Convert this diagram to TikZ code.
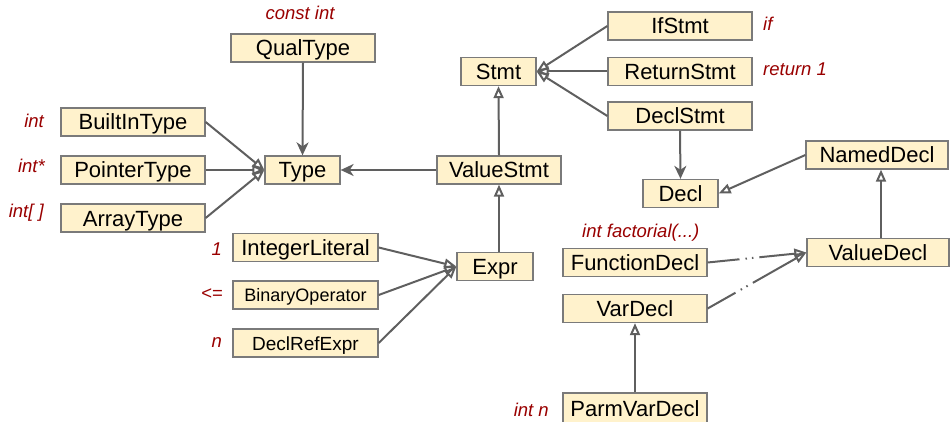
\documentclass[tikz,border=0pt]{standalone}
\usepackage{fontspec}
\setmainfont{Liberation Sans}
\usetikzlibrary{arrows.meta}

\definecolor{boxfill}{HTML}{FFF2CC}
\definecolor{boxline}{HTML}{7A7A7A}
\definecolor{wire}{HTML}{5F5F5F}
\definecolor{note}{HTML}{990000}

\tikzset{
  cls/.style={draw=boxline, fill=boxfill, line width=1.3pt, inner sep=0pt,
    minimum height=28pt, text height=16pt, text depth=0pt,
    font=\fontsize{22}{26}\selectfont},
  small/.style={text height=13pt, font=\fontsize{18}{22}\selectfont},
  mid/.style={text height=14pt, font=\fontsize{19}{23}\selectfont},
  note/.style={text=note, inner sep=0pt, font=\fontsize{18.5}{22}\selectfont\itshape},
  wire/.style={draw=wire, line width=2pt},
  isa/.style={wire, -{Triangle[open, length=12pt, width=10pt]}},
  uses/.style={wire, -{Stealth[length=13pt, width=12pt, inset=4pt]}},
  % long dash, two dots, then solid up to the tip
  dashdots/.style={dash pattern=on 32pt off 6pt on 1.5pt off 5pt on 1.5pt off 6pt on 300pt off 0pt},
}

\begin{document}
\begin{tikzpicture}[x=1pt, y=-1pt]
\useasboundingbox (0,0) rectangle (950,422);

% types
\node[cls, minimum width=144pt] (qual)    at (303,48)    {QualType};
\node[cls, minimum width=144pt] (builtin) at (133,122)   {BuiltInType};
\node[cls, minimum width=144pt] (pointer) at (133,170)   {PointerType};
\node[cls, minimum width=144pt] (array)   at (133,218)   {ArrayType};
\node[cls, minimum width=75pt]  (type)    at (302.5,170) {Type};

% statements
\node[cls, minimum width=124pt] (vstmt)   at (499,170)   {ValueStmt};
\node[cls, minimum width=75pt]  (stmt)    at (498.5,71.5){Stmt};
\node[cls, minimum width=144pt] (ifs)     at (680,26)    {IfStmt};
\node[cls, minimum width=144pt] (rets)    at (680,71.5)  {ReturnStmt};
\node[cls, minimum width=144pt] (decls)   at (680,116)   {DeclStmt};

% expressions
\node[cls, minimum width=145pt] (intlit)  at (305.5,247.5) {IntegerLiteral};
\node[cls, small, minimum width=145pt] (binop) at (305.5,295) {BinaryOperator};
\node[cls, mid, minimum width=145pt] (dref) at (305.5,343) {DeclRefExpr};
\node[cls, minimum width=76pt]  (expr)    at (495,266.5) {Expr};

% declarations
\node[cls, minimum width=75pt]  (decl)    at (680.5,193.5) {Decl};
\node[cls, minimum width=142pt] (named)   at (877,155)   {NamedDecl};
\node[cls, minimum width=142pt] (valdecl) at (878,252.5) {ValueDecl};
\node[cls, minimum width=144pt] (fdecl)   at (635,262.5) {FunctionDecl};
\node[cls, minimum width=144pt] (vdecl)   at (635,308.5) {VarDecl};
\node[cls, minimum width=144pt, minimum height=30pt] (pvdecl) at (635,408) {ParmVarDecl};

% example snippets
\node[note, anchor=base]      (n1)  at (300,20)  {const int};
\node[note, anchor=base east] (n2)  at (44,128)  {int};
\node[note, anchor=base east] (n3)  at (45,173)  {int*};
\node[note, anchor=base east] (n4)  at (44,218)  {int[ ]};
\node[note, anchor=base west] (n5)  at (763,31)  {if};
\node[note, anchor=base west] (n6)  at (763,76)  {return 1};
\node[note, anchor=base east] (n7)  at (222,255) {1};
\node[note, anchor=base east] (n8)  at (223,299) {<=};
\node[note, anchor=base east] (n9)  at (222,347) {n};
\node[note, anchor=base west] (n10) at (582,237) {int factorial(...)};
\node[note, anchor=base east] (n11) at (549,416) {int n};

% connectors
\draw[isa] (builtin.east) -- (type.west);
\draw[isa] (pointer.east) -- (type.west);
\draw[isa] (array.east)   -- (type.west);
\draw[uses] (qual.south)  -- (type.north);
\draw[uses] (vstmt.west)  -- (type.east);

\draw[isa] (vstmt.north) -- (stmt.south);
\draw[isa] (ifs.west)    -- (stmt.east);
\draw[isa] (rets.west)   -- (stmt.east);
\draw[isa] (decls.west)  -- (stmt.east);

\draw[isa] (vstmt.south |- expr.north) -- (vstmt.south);
\draw[isa] (intlit.east) -- (expr.west);
\draw[isa] (binop.east)  -- (expr.west);
\draw[isa] (dref.east)   -- (expr.west);

\draw[uses] (decls.south) -- (decl.north);
\draw[isa] (named.west) -- (decl.east);
\draw[isa] ([xshift=3pt]valdecl.north) -- ([xshift=4pt]named.south);
\draw[isa, dashdots] (fdecl.east) -- (valdecl.west);
\draw[isa, dashdots] (vdecl.east) -- (valdecl.west);
\draw[isa] (pvdecl.north) -- (vdecl.south);
\end{tikzpicture}
\end{document}
